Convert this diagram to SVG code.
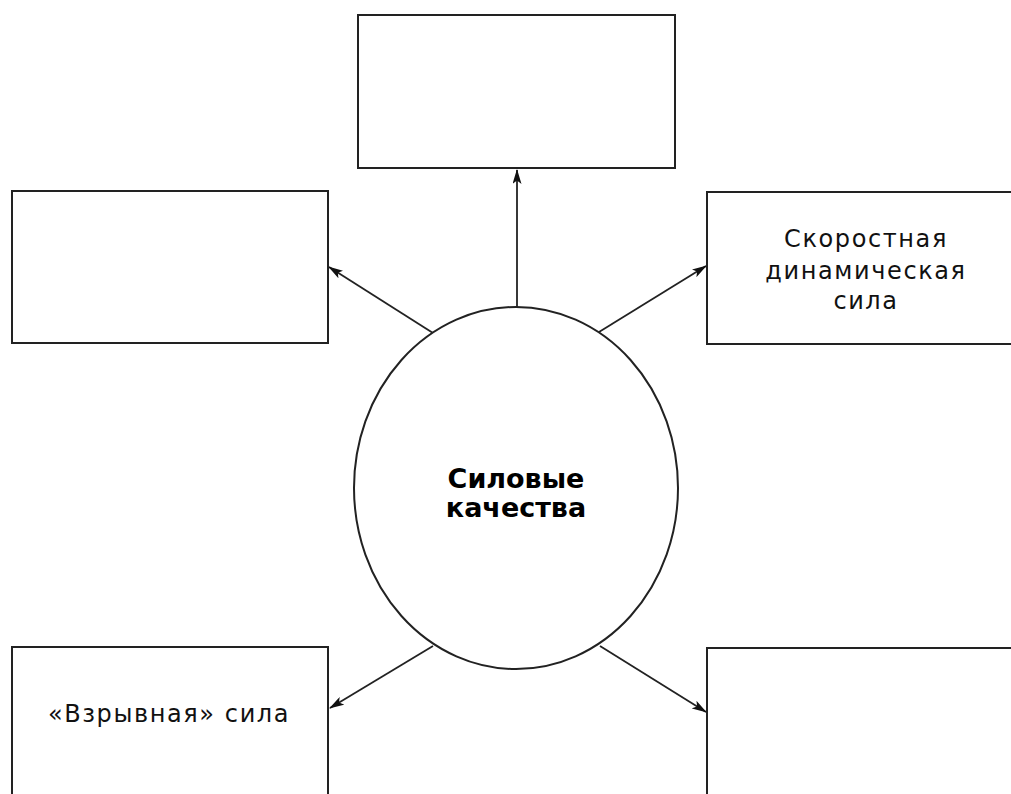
<svg xmlns="http://www.w3.org/2000/svg" width="1011" height="794" viewBox="0 0 1011 794">
<defs>
<style>
.box{fill:#fff;stroke:#222;stroke-width:2}
.ell{fill:#fff;stroke:#222;stroke-width:2}
.conn{stroke:#222;stroke-width:1.8;fill:none;marker-end:url(#ah)}
.t{font-family:"DejaVu Sans","Noto Sans",sans-serif;font-size:24px;letter-spacing:1.6px;fill:#111;text-anchor:middle}
.tb{font-family:"DejaVu Sans","Noto Sans",sans-serif;font-size:27px;font-weight:bold;fill:#000;text-anchor:middle}
</style>
<marker id="ah" viewBox="0 0 15 9" refX="14" refY="4.5" markerWidth="15" markerHeight="9" markerUnits="userSpaceOnUse" orient="auto">
<path d="M0,0 L15,4.5 L0,9 L3.5,4.5 Z" fill="#111"/>
</marker>
</defs>
<rect width="1011" height="794" fill="#fff"/>
<g id="connectors">
<line class="conn" x1="517" y1="307" x2="517" y2="170"/>
<line class="conn" x1="433" y1="333" x2="329" y2="267"/>
<line class="conn" x1="599" y1="332" x2="706" y2="266"/>
<line class="conn" x1="433" y1="646" x2="330" y2="708"/>
<line class="conn" x1="600" y1="646" x2="706" y2="712"/>
</g>
<g id="top">
<rect class="box" x="358" y="15" width="317" height="153"/>
</g>
<g id="left">
<rect class="box" x="12" y="191" width="316" height="152"/>
</g>
<g id="right">
<rect class="box" x="707" y="192" width="320" height="152"/>
<text class="t" x="866" y="247">Скоростная</text>
<text class="t" x="866" y="279">динамическая</text>
<text class="t" x="866" y="309">сила</text>
</g>
<g id="bottomleft">
<rect class="box" x="12" y="647" width="316" height="170"/>
<text class="t" x="169" y="722">«Взрывная» сила</text>
</g>
<g id="bottomright">
<rect class="box" x="707" y="648" width="320" height="170"/>
</g>
<g id="center">
<ellipse class="ell" cx="516" cy="488" rx="162" ry="181"/>
<text class="tb" x="516" y="488">Силовые</text>
<text class="tb" x="516" y="517">качества</text>
</g>
</svg>
